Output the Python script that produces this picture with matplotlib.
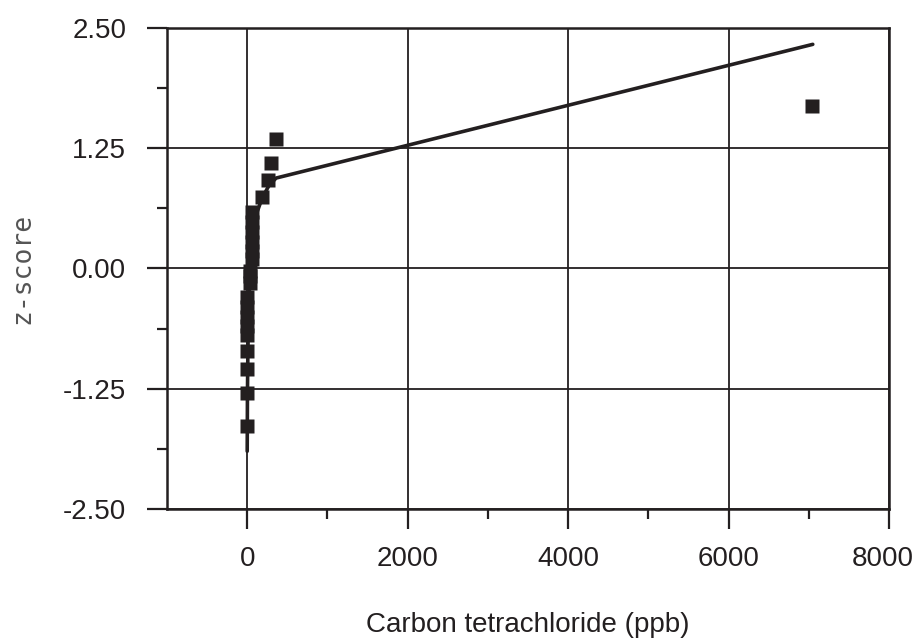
import matplotlib.pyplot as plt
import matplotlib.transforms as mtransforms
import numpy as np

# observed concentrations (ppb) and their normal scores
conc = [0, 0, 0, 0, 0, 0, 0, 0, 0,
        30, 30, 30,
        55, 55, 55, 55, 55, 55,
        190, 265, 300, 365, 7040]
zscore = [-1.64, -1.29, -1.04, -0.86, -0.69, -0.60, -0.50, -0.40, -0.30,
          -0.15, -0.08, -0.03,
          0.10, 0.18, 0.28, 0.38, 0.48, 0.59,
          0.74, 0.92, 1.10, 1.35, 1.69]

# fitted curve
fit_x = [0, 3, 8, 15, 30, 50, 80, 120, 190, 270, 360, 7050]
fit_z = [-1.90, -1.30, -0.90, -0.55, -0.15, 0.20, 0.42, 0.58, 0.74, 0.86, 0.94, 2.33]

xticks = [0, 2000, 4000, 6000, 8000]
yticks = [-2.5, -1.25, 0, 1.25, 2.5]
ylabels = ['-2.50', '-1.25', '0.00', '1.25', '2.50']

ink = '#231f20'

fig = plt.figure(figsize=(9.16, 6.42), dpi=100)
ax = fig.add_axes([0.1823, 0.2072, 0.7882, 0.7492])

ax.plot(fit_x, fit_z, color=ink, lw=2.6, zorder=3, solid_capstyle='round')
ax.plot(conc, zscore, 's', color=ink, ms=10.5, mec='none', zorder=4)

ax.set_xlim(-1000, 8000)
ax.set_ylim(-2.5, 2.5)
ax.set_xticks(xticks)
ax.set_xticks([1000, 3000, 5000, 7000], minor=True)
ax.set_yticks(yticks)
ax.set_yticks([-1.875, -0.625, 0.625, 1.875], minor=True)
ax.set_yticklabels(ylabels)

ax.grid(True, which='major', color=ink, lw=1.3)
ax.set_axisbelow(True)
for s in ax.spines.values():
    s.set_color(ink)
    s.set_linewidth(1.8)

ax.tick_params(which='major', direction='out', length=14.4, width=1.6, color=ink,
               labelsize=20, labelcolor=ink)
ax.tick_params(axis='y', which='major', pad=15)
ax.tick_params(axis='x', which='major', pad=12)
ax.tick_params(which='minor', direction='out', length=7.2, width=1.6, color=ink)
for lab in ax.get_xticklabels() + ax.get_yticklabels():
    lab.set_family('Liberation Sans')

# last x label sits at the figure edge, nudge it in a little
last = ax.get_xticklabels()[-1]
last.set_transform(last.get_transform() +
                   mtransforms.ScaledTranslation(-6 / 100, 0, fig.dpi_scale_trans))

ax.set_xlabel('Carbon tetrachloride (ppb)', fontsize=20, family='Liberation Sans',
              color=ink, labelpad=29)
ax.set_ylabel('z-score', fontsize=19, family='DejaVu Sans Mono', color='#555555',
              labelpad=20)

fig.savefig('out.png', dpi=100)
